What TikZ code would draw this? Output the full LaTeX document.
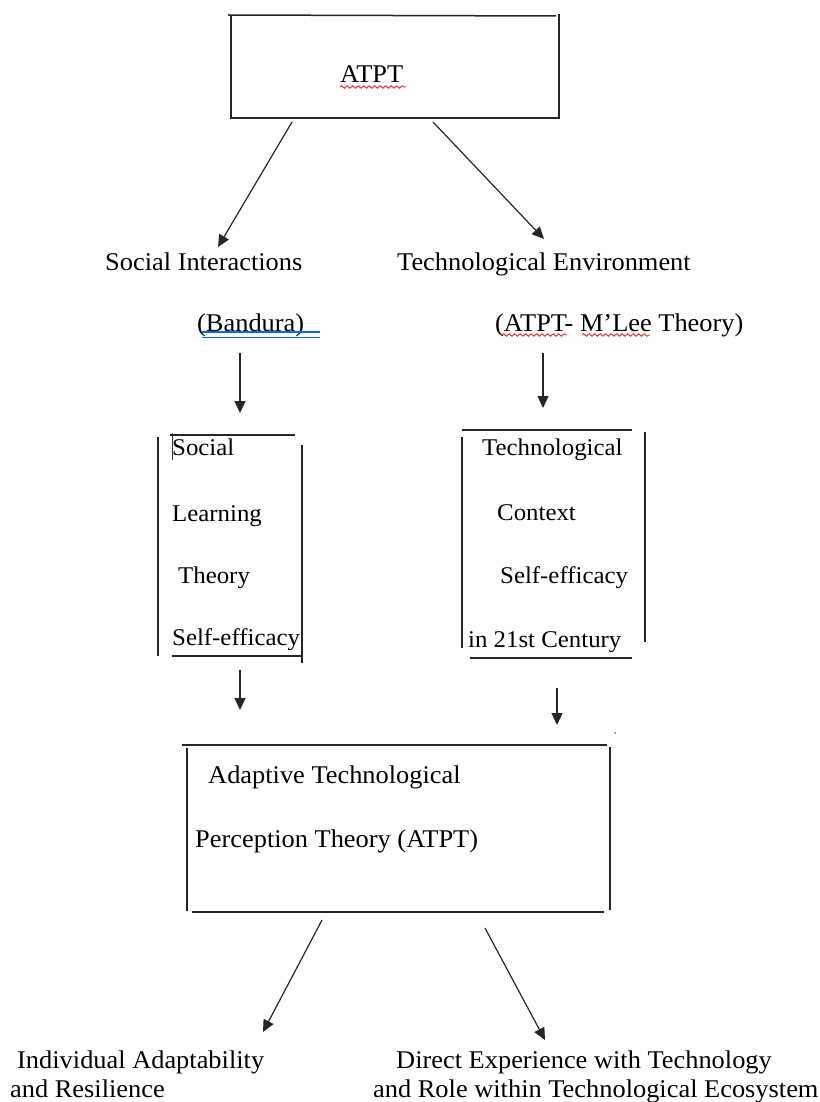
\documentclass[tikz,border=0pt]{standalone}
\usepackage{fontspec}
\setmainfont{Liberation Serif}[FakeStretch=1.035]
\usetikzlibrary{arrows.meta,decorations.pathmorphing}
\begin{document}
\begin{tikzpicture}[x=1pt,y=-1pt,
  edge/.style={line width=1.5pt, black!85},
  arr/.style={line width=1.2pt, black!85, -{Triangle[length=12pt,width=11pt]}},
  txt/.style={anchor=base west, inner sep=0pt, font=\fontsize{25.5}{30}\selectfont},
  btxt/.style={anchor=base west, inner sep=0pt, font=\fontsize{24}{30}\selectfont},
  squig/.style={red!85, line width=0.9pt, decorate, decoration={snake, amplitude=1.3pt, segment length=5.5pt}},
  blueline/.style={blue!60!cyan, line width=1.1pt}]
\useasboundingbox[fill=white] (0,0) rectangle (819,1102);

% ---------- top box ----------
\coordinate (t1) at (228,15);  \coordinate (t2) at (556,16);
\coordinate (t3) at (231,118); \coordinate (t4) at (559,118);
\coordinate (t5) at (231,15);  \coordinate (t6) at (559,14);
\draw[edge] (t1) -- (t2);
\draw[edge] (t5) -- (t3) -- (t4) -- (t6);
\node[txt] (atpt) at (340,83) {ATPT};
\draw[squig] (atpt.base west) ++(0,4) coordinate (s1a) -- ++(66,0) coordinate (s1b);

% ---------- level 2 texts ----------
\node[txt] (social) at (105,270) {Social Interactions};
\node[txt] (techenv) at (397,270) {Technological Environment};
\node[txt] (bandura) at (197,331) {(Bandura)};
\node[txt] (mlee) at (495,331) {(ATPT- M’Lee Theory)};
\coordinate (bl1) at (202,332) ; \coordinate (bl2) at (320,332);
\coordinate (bl3) at (202,337.5); \coordinate (bl4) at (320,337.5);
\draw[blueline] (bl1) -- (bl2);
\draw[blueline] (bl3) -- (bl4);
\coordinate (q1) at (502,335); \coordinate (q2) at (567,335);
\coordinate (q3) at (582,335); \coordinate (q4) at (650,335);
\draw[squig] (q1) -- (q2);
\draw[squig] (q3) -- (q4);

% arrows from top box
\coordinate (a1s) at (292,122); \coordinate (a1e) at (218,247);
\coordinate (a2s) at (433,122); \coordinate (a2e) at (544,239);
\draw[arr] (a1s) -- (a1e);
\draw[arr] (a2s) -- (a2e);

% down arrows
\coordinate (d1s) at (240,353); \coordinate (d1e) at (240,413);
\coordinate (d2s) at (543,353); \coordinate (d2e) at (543,408);
\draw[arr] (d1s) -- (d1e);
\draw[arr] (d2s) -- (d2e);

% ---------- left box ----------
\coordinate (l1) at (170,435); \coordinate (l2) at (295,435);
\coordinate (l3) at (158,437); \coordinate (l4) at (158,656);
\coordinate (l5) at (302,445); \coordinate (l6) at (302,663);
\coordinate (l7) at (172,656); \coordinate (l8) at (302,656);
\coordinate (l9) at (172,433); \coordinate (l10) at (172,460);
\draw[edge] (l1) -- (l2);
\draw[edge] (l3) -- (l4);
\draw[edge] (l5) -- (l6);
\draw[edge] (l7) -- (l8);
\draw[line width=0.9pt, black!80] (l9) -- (l10);
\node[btxt] (ls1) at (172,455) {Social};
\node[btxt] (ls2) at (172,521) {Learning};
\node[btxt] (ls3) at (178,583) {Theory};
\node[btxt] (ls4) at (172,645) {Self-efficacy};

% ---------- right box ----------
\coordinate (r1) at (462,430); \coordinate (r2) at (632,430);
\coordinate (r3) at (462,437); \coordinate (r4) at (462,648);
\coordinate (r5) at (645,432); \coordinate (r6) at (645,642);
\coordinate (r7) at (470,658); \coordinate (r8) at (632,658);
\draw[edge] (r1) -- (r2);
\draw[edge] (r3) -- (r4);
\draw[edge] (r5) -- (r6);
\draw[edge] (r7) -- (r8);
\node[btxt] (rs1) at (482,455) {Technological};
\node[btxt] (rs2) at (497,520) {Context};
\node[btxt] (rs3) at (500,583) {Self-efficacy};
\node[btxt] (rs4) at (468,647) {in 21st Century};

% arrows to bottom box
\coordinate (e1s) at (240,670); \coordinate (e1e) at (240,710);
\coordinate (e2s) at (557,688); \coordinate (e2e) at (557,725);
\draw[arr] (e1s) -- (e1e);
\draw[arr] (e2s) -- (e2e);
\fill[black!70] (615,733) circle (0.9);

% ---------- bottom box ----------
\coordinate (b1) at (182,745); \coordinate (b2) at (607,745);
\coordinate (b3) at (187,748); \coordinate (b4) at (187,911);
\coordinate (b5) at (610,747); \coordinate (b6) at (610,910);
\coordinate (b7) at (192,912); \coordinate (b8) at (604,912);
\draw[edge] (b1) -- (b2);
\draw[edge] (b3) -- (b4);
\draw[edge] (b5) -- (b6);
\draw[edge] (b7) -- (b8);
\node[txt] (bt1) at (208,783) {Adaptive Technological};
\node[txt] (bt2) at (195,847) {Perception Theory (ATPT)};

% arrows out of bottom box
\coordinate (f1s) at (322,920); \coordinate (f1e) at (263,1032);
\coordinate (f2s) at (485,928); \coordinate (f2e) at (545,1040);
\draw[arr] (f1s) -- (f1e);
\draw[arr] (f2s) -- (f2e);

% ---------- outcome texts ----------
\node[txt] (o1) at (17,1068) {Individual Adaptability};
\node[txt] (o2) at (10,1097) {and Resilience};
\node[txt] (o3) at (396,1068) {Direct Experience with Technology};
\node[txt] (o4) at (373,1097) {and Role within Technological Ecosystem};
\end{tikzpicture}
\end{document}
